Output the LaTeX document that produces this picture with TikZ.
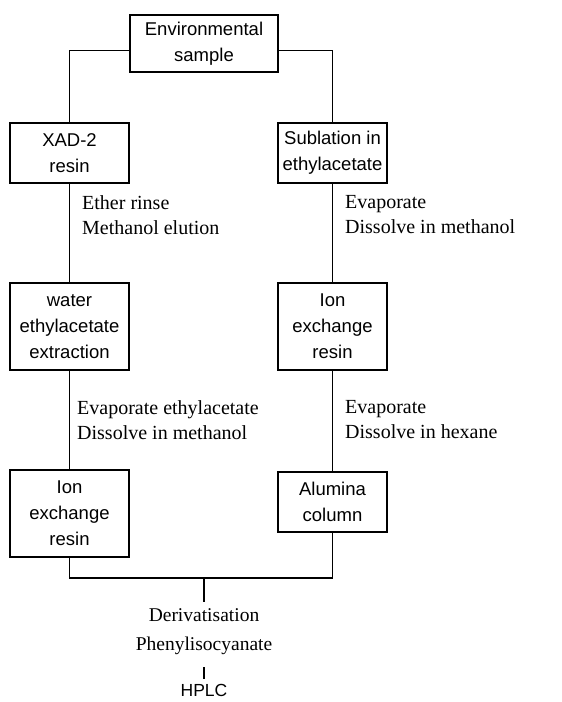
\documentclass[tikz,border=0pt]{standalone}
\usepackage{fontspec}
\setmainfont{Liberation Serif}
\newfontfamily\boxfont{Liberation Sans}
\begin{document}
\begin{tikzpicture}[x=1pt,y=-1pt,
  box/.style={draw, line width=1.6pt, inner sep=0pt, align=center,
    font=\boxfont\fontsize{18.5}{26}\selectfont},
  lbl/.style={align=left, anchor=west, inner sep=0pt,
    font=\fontsize{20}{25}\selectfont},
  ctr/.style={align=center, inner sep=0pt},
  conn/.style={line width=1.1pt}]
\fill[white] (0,0) rectangle (562,702);
\useasboundingbox (0,0) rectangle (562,702);
% boxes
\node[box, minimum width=148pt, minimum height=57pt] (env) at (204,43.5) {Environmental\\sample};
\node[box, minimum width=119pt, minimum height=60pt] (xad) at (69.5,153) {XAD-2\\resin};
\node[box, minimum width=109pt, minimum height=60pt] (sub) at (332.5,153) {Sublation in\\ethylacetate};
\node[box, minimum width=119pt, minimum height=87pt] (water) at (69.5,326.5) {water\\ethylacetate\\extraction};
\node[box, minimum width=109pt, minimum height=87pt] (ionr) at (332.5,326.5) {Ion\\exchange\\resin};
\node[box, minimum width=119pt, minimum height=87pt] (ionl) at (69.5,513.5) {Ion\\exchange\\resin};
\node[box, minimum width=109pt, minimum height=60pt] (alu) at (332.5,502) {Alumina\\column};
% labels
\node[lbl] (l1) at (82,215) {Ether rinse\\Methanol elution};
\node[lbl] (r1) at (345,215) {Evaporate\\Dissolve in methanol};
\node[lbl] (l2) at (77,420) {Evaporate ethylacetate\\Dissolve in methanol};
\node[lbl] (r2) at (345,420) {Evaporate\\Dissolve in hexane};
\node[ctr, font=\fontsize{19.5}{29}\selectfont] (der) at (204,632) {Derivatisation\\Phenylisocyanate};
\node[ctr, font=\boxfont\fontsize{17.5}{20}\selectfont] (hplc) at (204,690) {HPLC};
\coordinate (join) at (204,578);
\coordinate (jend) at (204,602);
\coordinate (h1) at (204,667);
\coordinate (h2) at (204,679);
% connectors
\draw[conn] ([yshift=-7pt]env.west) -| (xad.north);
\draw[conn] ([yshift=-7pt]env.east) -| (sub.north);
\draw[conn] (xad.south) -- (water.north);
\draw[conn] (sub.south) -- (ionr.north);
\draw[conn] (water.south) -- (ionl.north);
\draw[conn] (ionr.south) -- (alu.north);
\draw[conn] (ionl.south) |- (join);
\draw[conn] (alu.south) |- (join);
\draw[conn] (join) -- (jend);
\draw[conn] (h1) -- (h2);
\end{tikzpicture}
\end{document}
